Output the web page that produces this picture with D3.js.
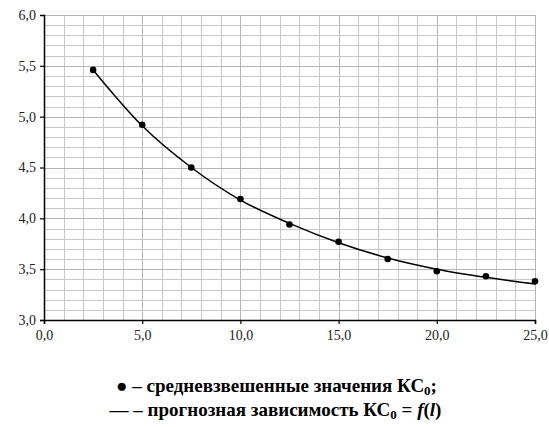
<!DOCTYPE html>
<html>
<head>
<meta charset="utf-8">
<script src="https://cdn.jsdelivr.net/npm/d3@7"></script>
<style>
html body #chart svg text, html body #chart svg tspan { font-family: "Liberation Serif" !important; }
</style>
</head>
<body style="margin:0">
<div id="chart"></div>
<script>
// weighted mean values (points)
var xPoints = [2.5, 5, 7.5, 10, 12.5, 15, 17.5, 20, 22.5, 25];
var yPoints = [5.46, 4.92, 4.50, 4.19, 3.94, 3.77, 3.60, 3.48, 3.43, 3.38];
// forecast curve at the same x
var yCurve = [5.46, 4.91, 4.50, 4.18, 3.95, 3.76, 3.61, 3.50, 3.42, 3.355];

var xTicks = [0, 5, 10, 15, 20, 25];
var yTicks = [3.0, 3.5, 4.0, 4.5, 5.0, 5.5, 6.0];

var W = 549;
var H = 427;
var margin = {left: 44, right: 14, top: 15, bottom: 107};

var svg = d3.select("#chart")
    .append("svg")
    .attr("width", W)
    .attr("height", H);

var x = d3.scaleLinear().domain([0, 25]).range([margin.left, W - margin.right]);
var y = d3.scaleLinear().domain([3, 6]).range([H - margin.bottom, margin.top]);

var fmt = function (d) { return d3.format(".1f")(d).replace(".", ","); };

// grid
var grid = svg.append("g");
grid.selectAll(".vx")
    .data(d3.range(1, 26))
    .enter().append("line")
    .attr("x1", d => Math.round(x(d)) + 0.5)
    .attr("x2", d => Math.round(x(d)) + 0.5)
    .attr("y1", y(3))
    .attr("y2", y(6))
    .attr("stroke", d => d % 5 == 0 ? "#b4b4b4" : "#c8c8c8")
    .attr("stroke-width", 1);
grid.selectAll(".hy")
    .data(d3.range(31, 61).map(d => d / 10))
    .enter().append("line")
    .attr("y1", d => Math.round(y(d)) + 0.5)
    .attr("y2", d => Math.round(y(d)) + 0.5)
    .attr("x1", x(0))
    .attr("x2", x(25))
    .attr("stroke", (d, i) => (i + 1) % 5 == 0 ? "#b4b4b4" : "#c8c8c8")
    .attr("stroke-width", 1);

// axes
var xAxis = d3.axisBottom(x).tickValues(xTicks).tickFormat(fmt).tickSize(4).tickPadding(6);
var yAxis = d3.axisLeft(y).tickValues(yTicks).tickFormat(fmt).tickSize(4).tickPadding(4);

var gx = svg.append("g")
    .attr("transform", "translate(0," + y(3) + ")")
    .call(xAxis);
var gy = svg.append("g")
    .attr("transform", "translate(" + x(0) + ",0)")
    .call(yAxis);

[gx, gy].forEach(function (g) {
    g.attr("font-family", "Liberation Serif").attr("font-size", 14);
    g.select(".domain").attr("stroke", "#000").attr("stroke-width", 1.5);
    g.selectAll(".tick line").attr("stroke", "#000").attr("stroke-width", 1.2);
    g.selectAll("text").attr("fill", "#222")
        .attr("style", "font-family: 'Liberation Serif' !important; font-size: 14px");
});
gy.select(".tick:last-of-type line").remove();

// curve
var pts = xPoints.map((d, i) => [d, yCurve[i]]);
var line = d3.line()
    .x(d => x(d[0]))
    .y(d => y(d[1]))
    .curve(d3.curveMonotoneX);
svg.append("path")
    .datum(pts)
    .attr("d", line)
    .attr("fill", "none")
    .attr("stroke", "#000")
    .attr("stroke-width", 1.5);

// points
svg.selectAll(".pt")
    .data(xPoints)
    .enter().append("circle")
    .attr("cx", d => x(d))
    .attr("cy", (d, i) => y(yPoints[i]))
    .attr("r", 3.3)
    .attr("fill", "#000");

// legend
var legStyle = "font-family: 'Liberation Serif' !important; font-size: 19px; font-weight: bold";
var leg1 = svg.append("text")
    .attr("x", W / 2 + 2)
    .attr("y", 392)
    .attr("text-anchor", "middle")
    .attr("style", legStyle);
leg1.append("tspan").text("● – средневзвешенные значения КС");
leg1.append("tspan").attr("dy", 3).attr("font-size", 13).text("0");
leg1.append("tspan").attr("dy", -3).text(";");

var leg2 = svg.append("text")
    .attr("x", W / 2 + 1)
    .attr("y", 416)
    .attr("text-anchor", "middle")
    .attr("style", legStyle);
leg2.append("tspan").text("— – прогнозная зависимость КС");
leg2.append("tspan").attr("dy", 3).attr("font-size", 13).text("0");
leg2.append("tspan").attr("dy", -3).text(" = ");
leg2.append("tspan").attr("font-style", "italic").text("f");
leg2.append("tspan").text("(");
leg2.append("tspan").attr("font-style", "italic").text("l");
leg2.append("tspan").text(")");
</script>
</body>
</html>
